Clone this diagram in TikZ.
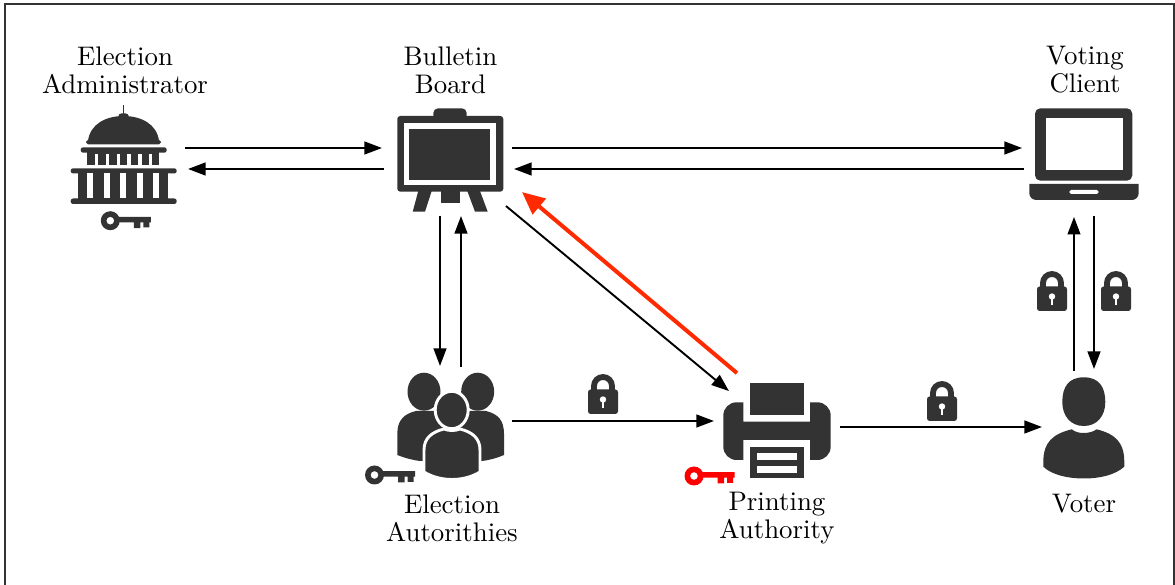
\documentclass[tikz,border=0pt]{standalone}
\usetikzlibrary{arrows.meta,calc}
\definecolor{icondark}{HTML}{333333}
\definecolor{signred}{HTML}{FF2A00}
\tikzset{
    spot/.style={minimum width=#1,inner sep=0pt,outer sep=0pt},
    lbl/.style={align=center,inner sep=0pt,font=\fontsize{10.1}{10.6}\selectfont},
    arr/.style={-{Triangle[length=6.6pt,width=4.8pt]},line width=0.72pt},
    redarr/.style={-{Triangle[length=8.5pt,width=7.5pt]},line width=1.5pt,draw=signred},
    keyicon/.pic={
        \path[pic actions,even odd rule] (0,0) circle (9.5) (0,0) circle (3.9);
        \path[pic actions] (7,-3.8) -- (40.5,-3.8) -- (40.5,1.6) -- (39,1.6) -- (39,6.8) -- (33,6.8) -- (33,1.6)
            -- (30,1.6) -- (30,7.5) -- (23.5,7.5) -- (23.5,1.6) -- (7,1.6) -- cycle;
    },
    lockicon/.pic={
        \draw[icondark,line width=2.2pt] (-9,-3) -- (-9,-8) arc (180:360:9) -- (9,-3);
        \fill[icondark,rounded corners=1pt] (-15,-4.5) rectangle (15,20);
        \fill[white] (0,5.5) circle (3.2);
        \fill[white] (-1.4,5.5) rectangle (1.4,14);
    }
}
\begin{document}
\begin{tikzpicture}[x=0.376pt,y=-0.376pt]
        \useasboundingbox (0,0) rectangle (1175,585);
        \draw[line width=0.5pt,icondark] (5,585) -- (5,4) -- (1174,4) -- (1174,585);

        \node[spot=45.9pt,minimum height=42.9pt] (admin) at (124.5,158.5) {};
        \node[spot=48.9pt,minimum height=42.9pt] (board) at (448,158.5) {};
        \node[spot=45.1pt,minimum height=43.2pt] (client) at (1084,158.5) {};
        \node[spot=45.9pt,minimum height=39.9pt] (group) at (451,420) {};
        \node[spot=47.4pt,minimum height=36.8pt] (printer) at (777,422) {};
        \node[spot=31.6pt,minimum height=37.6pt] (voter) at (1084,420) {};

        \node[lbl] (adminlabel) at (125,70) {Election\\Administrator};
        \node[lbl] (boardlabel) at (450.5,70) {Bulletin\\Board};
        \node[lbl] (clientlabel) at (1085,70) {Voting\\Client};
        \node[lbl] (grouplabel) at (452,518) {Election\\Autorithies};
        \node[lbl] (printerlabel) at (777,518) {Printing\\Authority};
        \node[lbl] (voterlabel) at (1084,504) {Voter};

        % capitol
        \draw[icondark,line width=0.4pt] (123.5,105) -- (123.5,116);
        \fill[icondark,rounded corners=1pt] (118.5,113.5) rectangle (128.5,118);
        \fill[icondark] (88,141) .. controls (90,124) and (106,116) .. (123.5,116) .. controls (141,116) and (157,124) .. (159,141) -- cycle;
        \fill[icondark,rounded corners=0.7pt] (86,140) rectangle (161,144.3);
        \fill[icondark,rounded corners=0.9pt] (80.7,147.3) rectangle (166.7,152.7);
        \fill[icondark] (87.3,152) rectangle (159.3,165);
        \foreach \x in {95,105.8,116.6,127.4,138.2,149}
            \fill[white] (\x,153.8) rectangle (\x+3.3,165.5);
        \fill[icondark,rounded corners=0.9pt] (70.7,168.3) rectangle (176.7,173.5);
        \fill[icondark] (78.3,172) rectangle (168.3,200);
        \foreach \x in {87.3,103.8,120.2,136.7,153.1}
            \fill[white] (\x,173.5) rectangle (\x+6,198.5);
        \fill[icondark,rounded corners=0.9pt] (70.7,198.5) rectangle (176.7,204);
        \pic[fill=icondark] at (110.3,220.7) {keyicon};

        % board
        \fill[icondark,rounded corners=1.8pt] (433.3,108.3) rectangle (466.7,120);
        \fill[icondark,rounded corners=1.1pt] (397.3,116) rectangle (503.3,191.7);
        \fill[white] (404.3,123.3) rectangle (496,185);
        \fill[icondark] (409,129) rectangle (490,180);
        \fill[icondark] (418.3,191) -- (431.7,191) -- (425,211.7) -- (412.7,211.7) -- cycle;
        \fill[icondark] (467.3,191) -- (480,191) -- (487.7,211.7) -- (475,211.7) -- cycle;
        \fill[icondark] (441,191) rectangle (460,203.3);

        % laptop
        \fill[icondark,rounded corners=2pt] (1035,108.3) rectangle (1132.3,180.7);
        \fill[white] (1045.7,118.3) rectangle (1122.7,170.3);
        \fill[icondark] (1029.3,184) [rounded corners=2.6pt] -- (1029.3,200) -- (1138.7,200) [sharp corners] -- (1138.7,184) -- cycle;
        \fill[white,rounded corners=0.7pt] (1069.3,190) rectangle (1098.7,194);

        % people
        \fill[icondark] (424,391.7) ellipse (16.5 and 19);
        \fill[icondark] (477.7,391.7) ellipse (16.5 and 19);
        \fill[icondark] (397.3,455) -- (397.3,434) .. controls (397.3,420) and (404,414) .. (416,411) -- (486,411)
            .. controls (498,414) and (504,420) .. (504,434) -- (504,455) .. controls (497,458) and (490,460) .. (482,461) -- (420,461)
            .. controls (412,460) and (405,458) .. (397.3,455) -- cycle;
        \filldraw[icondark,draw=white,line width=1.1pt] (424,472) -- (424,450) .. controls (424,438) and (432,432) .. (444,429)
            .. controls (449,431) and (455,431) .. (460,429) .. controls (472,432) and (480,438) .. (480,450) -- (480,472)
            .. controls (471,477.5) and (461,479.5) .. (452,479.5) .. controls (443,479.5) and (433,477.5) .. (424,472) -- cycle;
        \filldraw[icondark,draw=white,line width=1.1pt] (451.7,410) ellipse (16.5 and 18.7);
        \pic[fill=icondark] at (374.5,475) {keyicon};

        % printer
        \fill[icondark] (750.3,383.3) rectangle (804,415);
        \fill[icondark] (743.3,402.3) [rounded corners=5pt] -- (723.3,402.3) -- (723.3,460) [sharp corners] -- (743.3,460) -- (743.3,440) -- (810,440) -- (810,460)
            [rounded corners=5pt] -- (830.7,460) -- (830.7,402.3) [sharp corners] -- (810,402.3) -- (810,421.7) -- (743.3,421.7) -- cycle;
        \fill[icondark] (750,447.3) rectangle (804,478.3);
        \fill[white] (756.7,453.3) rectangle (797.3,460);
        \fill[white] (756.7,466) rectangle (797.3,472.7);
        \pic[fill=red] at (694,476) {keyicon};

        % voter
        \fill[icondark] (1083.8,377.3) .. controls (1099,377.3) and (1105.3,387) .. (1105.3,402) .. controls (1105.3,416) and (1097,426) .. (1083.8,426)
            .. controls (1070.6,426) and (1062.3,416) .. (1062.3,402) .. controls (1062.3,387) and (1068.6,377.3) .. (1083.8,377.3) -- cycle;
        \fill[icondark] (1071.7,429.3) .. controls (1075,432) and (1079,433) .. (1083.8,433) .. controls (1088,433) and (1093,432) .. (1096.7,429.3)
            .. controls (1115,434) and (1124.3,442) .. (1124.3,462) -- (1124.3,466.7) .. controls (1115,475) and (1100,478.5) .. (1083.8,478.5)
            .. controls (1068,478.5) and (1052,475) .. (1043.3,466.7) -- (1043.3,462) .. controls (1043.3,442) and (1053,434) .. (1071.7,429.3) -- cycle;

        \pic at (603,394) {lockicon};
        \pic at (942,401) {lockicon};
        \pic at (1052,291) {lockicon};
        \pic at (1116,291) {lockicon};

        \draw[arr] ($(admin.east)+(-0.5,-10.5)$) -- ($(board.west)+(-1,-10.5)$);
        \draw[arr] ($(board.west)+(1,10.5)$) -- ($(admin.east)+(2.5,10.5)$);
        \draw[arr] ($(board.east)+(-1,-10.5)$) -- ($(client.west)+(-2,-10.5)$);
        \draw[arr] ($(client.west)+(0,10.5)$) -- ($(board.east)+(1,10.5)$);
        \draw[arr] ($(board.south)+(-8,0)$) -- ($(group.north)+(-11,-1)$);
        \draw[arr] ($(group.north)+(10,0)$) -- ($(board.south)+(13,0.5)$);
        \draw[arr] ($(board.south east)+(-7,-9.5)$) -- ($(printer.north west)+(15,18)$);
        \draw[redarr] ($(printer.north west)+(23,0)$) -- ($(board.south east)+(9,-23.5)$);
        \draw[arr] ($(group.east)+(0,1)$) -- ($(printer.west)+(0,-1)$);
        \draw[arr] ($(printer.east)+(0,5)$) -- ($(voter.west)+(0,7)$);
        \draw[arr] ($(voter.north)+(-10,1)$) -- ($(client.south)+(-10,1)$);
        \draw[arr] ($(client.south)+(10,0)$) -- ($(voter.north)+(10,-1)$);
\end{tikzpicture}
\end{document}
